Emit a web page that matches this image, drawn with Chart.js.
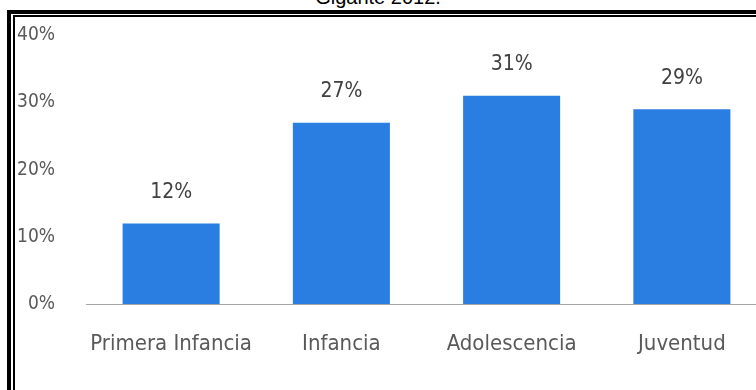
<!DOCTYPE html>
<html>
<head>
<meta charset="utf-8">
<script src="https://cdn.jsdelivr.net/npm/chart.js@4/dist/chart.umd.min.js"></script>
<style>
  html, body { margin: 0; padding: 0; background: #fff; overflow: hidden; width: 756px; height: 390px; }
  #title { position: absolute; left: 0; top: -13px; width: 756px; text-align: center;
           font: 20px "Liberation Sans", Arial, sans-serif; line-height: 1; color: #000; }
  #frame { position: absolute; left: 7px; top: 10px; width: 800px; height: 420px;
           border-left: 4px solid #000; border-top: 4px solid #000; }
  #inner { position: absolute; left: 2px; top: 1px; width: 790px; height: 410px;
           border-left: 2px solid #000; border-top: 2px solid #000; }
  #wrap { position: absolute; left: 15px; top: -7px; }
</style>
</head>
<body>
<div id="title">Gigante 2012.</div>
<div id="frame"><div id="inner"></div></div>
<div id="wrap"><canvas id="chart" width="760" height="397"></canvas></div>
<script>
// Porcentaje por grupo de edad
const grupos = ["Primera Infancia", "Infancia", "Adolescencia", "Juventud"];
const porcentajes = [12, 27, 31, 29];
const yTicks = [0, 10, 20, 30, 40];

const labelFont = '"DejaVu Sans Condensed", "Liberation Sans Narrow", sans-serif';

// draw the value labels above each bar
const valueLabels = {
  id: "valueLabels",
  afterDatasetsDraw(chart) {
    const ctx = chart.ctx;
    const meta = chart.getDatasetMeta(0);
    ctx.save();
    ctx.font = "21px " + labelFont;
    ctx.fillStyle = "#404040";
    ctx.textAlign = "center";
    ctx.textBaseline = "middle";
    meta.data.forEach((bar, i) => {
      ctx.fillText(porcentajes[i] + "%", bar.x, bar.y - 31);
    });
    ctx.restore();
  }
};

new Chart(document.getElementById("chart").getContext("2d"), {
  type: "bar",
  data: {
    labels: grupos,
    datasets: [{
      data: porcentajes,
      backgroundColor: "#2a7de1",
      categoryPercentage: 1,
      barPercentage: 0.57
    }]
  },
  options: {
    responsive: false,
    animation: false,
    layout: { padding: { top: 0, right: 8, left: 0, bottom: 0 } },
    plugins: { legend: { display: false }, tooltip: { enabled: false }, title: { display: false } },
    scales: {
      y: {
        min: 0,
        max: 40,
        afterBuildTicks(scale) { scale.ticks = yTicks.map(v => ({ value: v })); },
        afterFit(scale) { scale.width = 71; },
        grid: { display: false, drawTicks: false },
        border: { display: false },
        ticks: {
          padding: 31,
          color: "#595959",
          font: { family: labelFont, size: 19 },
          callback: v => v + "%"
        }
      },
      x: {
        afterFit(scale) { scale.height = 86; },
        grid: { display: false, drawTicks: false },
        border: { display: true, color: "#a6a6a6", width: 1 },
        ticks: {
          padding: 27,
          color: "#595959",
          font: { family: labelFont, size: 22 }
        }
      }
    }
  },
  plugins: [valueLabels]
});
</script>
</body>
</html>
